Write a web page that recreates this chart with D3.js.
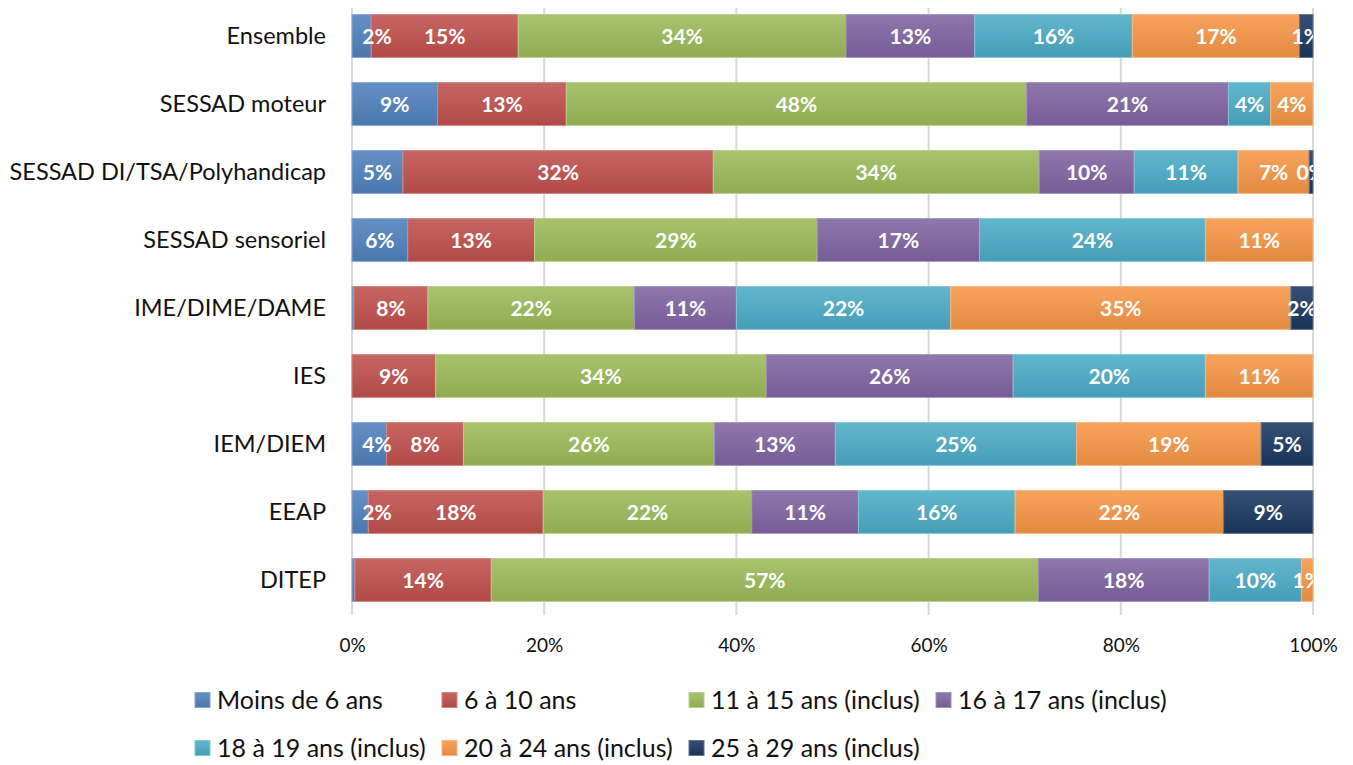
<html>
<head>
<meta charset="utf-8">
<script src="https://d3js.org/d3.v7.min.js"></script>
<style>
body { margin: 0; background: white; }
text { font-family: Lato, "Open Sans", sans-serif; }
</style>
</head>
<body>
<svg width="1353" height="765"></svg>
<script>
// categories, top to bottom
var categories = ["Ensemble", "SESSAD moteur", "SESSAD DI/TSA/Polyhandicap", "SESSAD sensoriel",
  "IME/DIME/DAME", "IES", "IEM/DIEM", "EEAP", "DITEP"];

var seriesNames = ["Moins de 6 ans", "6 à 10 ans", "11 à 15 ans (inclus)", "16 à 17 ans (inclus)",
  "18 à 19 ans (inclus)", "20 à 24 ans (inclus)", "25 à 29 ans (inclus)"];

var seriesColors = ["#4F81BD", "#C0504D", "#9BBB59", "#8064A2", "#4BACC6", "#F79646", "#1B3861"];

// share (%) per category, one array per series
var moins6  = [2.0, 8.9, 5.3, 5.8, 0.2, 0, 3.6, 1.7, 0.3];
var ans6_10 = [15.3, 13.4, 32.3, 13.2, 7.7, 8.7, 8.0, 18.2, 14.2];
var ans11_15 = [34.1, 47.9, 33.9, 29.4, 21.5, 34.4, 26.1, 21.7, 56.9];
var ans16_17 = [13.4, 21.0, 9.9, 16.9, 10.6, 25.7, 12.6, 11.1, 17.8];
var ans18_19 = [16.4, 4.4, 10.8, 23.5, 22.3, 20.0, 25.1, 16.3, 9.6];
var ans20_24 = [17.4, 4.4, 7.4, 11.2, 35.4, 11.2, 19.2, 21.7, 1.2];
var ans25_29 = [1.4, 0, 0.4, 0, 2.3, 0, 5.4, 9.3, 0];

var xTicks = [0, 20, 40, 60, 80, 100];

var allSeries = [moins6, ans6_10, ans11_15, ans16_17, ans18_19, ans20_24, ans25_29];

var rows = categories.map(function(c, i) {
  var r = { cat: c };
  seriesNames.forEach(function(s, j) { r[s] = allSeries[j][i]; });
  return r;
});

var svg = d3.select("svg");
var left = 352, right = 1313;

var x = d3.scaleLinear().domain([0, 100]).range([left, right]);
var y = d3.scaleBand().domain(categories).range([2, 614]).paddingInner(0.37).paddingOuter(0.185);

// gradients
var defs = svg.append("defs");
seriesColors.forEach(function(c, j) {
  var g = defs.append("linearGradient").attr("id", "grad" + j)
    .attr("x1", 0).attr("y1", 0).attr("x2", 0).attr("y2", 1);
  g.append("stop").attr("offset", "0%").attr("stop-color", d3.interpolateRgb(c, "#ffffff")(0.12));
  g.append("stop").attr("offset", "100%").attr("stop-color", d3.interpolateRgb(c, "#000000")(0.08));
});
defs.append("clipPath").attr("id", "plotclip")
  .append("rect").attr("x", left).attr("y", 0).attr("width", right - left).attr("height", 620);

// gridlines
svg.append("g").selectAll("line").data(xTicks).enter().append("line")
  .attr("x1", function(d) { return x(d); }).attr("x2", function(d) { return x(d); })
  .attr("y1", 8).attr("y2", 615)
  .attr("stroke", "#D9D9D9").attr("stroke-width", 2);

// x axis labels
var xAxis = svg.append("g").attr("transform", "translate(0,635)")
  .call(d3.axisBottom(x).tickValues(xTicks).tickSize(0).tickFormat(function(d) { return d + "%"; }));
xAxis.select(".domain").remove();
xAxis.selectAll("text").style("font-family", "Lato, sans-serif").style("font-size", "19px").attr("fill", "#111");

// category labels
svg.append("g").selectAll("text").data(categories).enter().append("text")
  .attr("x", 326).attr("y", function(d) { return y(d) + y.bandwidth() / 2; })
  .attr("dy", "0.35em").attr("text-anchor", "end")
  .style("font-size", "23.5px").attr("fill", "#111")
  .text(function(d) { return d; });

var stack = d3.stack().keys(seriesNames)(rows);

var layers = svg.append("g").selectAll("g").data(stack).enter().append("g")
  .attr("fill", function(d, j) { return "url(#grad" + j + ")"; })
  .attr("stroke", function(d, j) { return d3.interpolateRgb(seriesColors[j], "#ffffff")(0.3); });

layers.selectAll("rect").data(function(d) { return d; }).enter().append("rect")
  .filter(function(d) { return d[1] - d[0] > 0; })
  .attr("x", function(d) { return x(d[0]); })
  .attr("width", function(d) { return x(d[1]) - x(d[0]); })
  .attr("y", function(d) { return y(d.data.cat); })
  .attr("height", y.bandwidth())
  .attr("stroke-width", 1);

// value labels
var labels = svg.append("g").attr("clip-path", "url(#plotclip)");
stack.forEach(function(layer) {
  layer.forEach(function(d) {
    var v = d[1] - d[0];
    if (v < 0.4) return;
    var cx = (x(d[0]) + x(d[1])) / 2;
    if (d[0] === 0) cx = Math.max(cx, left + 25);
    labels.append("text")
      .attr("x", cx).attr("y", y(d.data.cat) + y.bandwidth() / 2)
      .attr("dy", "0.36em").attr("text-anchor", "middle")
      .style("font-size", "21px").style("font-weight", "bold").attr("fill", "white")
      .text(Math.round(v) + "%");
  });
});

// legend
var legCols = 4, colW = 247, legX = 195, legY = [700, 748];
var leg = svg.append("g").selectAll("g").data(seriesNames).enter().append("g")
  .attr("transform", function(d, i) {
    return "translate(" + (legX + (i % legCols) * colW) + "," + legY[Math.floor(i / legCols)] + ")";
  });
leg.append("rect").attr("x", 0).attr("y", -7.5).attr("width", 15).attr("height", 15)
  .attr("fill", function(d, i) { return "url(#grad" + i + ")"; })
  .attr("stroke", function(d, i) { return d3.interpolateRgb(seriesColors[i], "#ffffff")(0.3); });
leg.append("text").attr("x", 22).attr("dy", "0.35em")
  .style("font-size", "25px").attr("fill", "#111")
  .text(function(d) { return d; });
</script>
</body>
</html>
